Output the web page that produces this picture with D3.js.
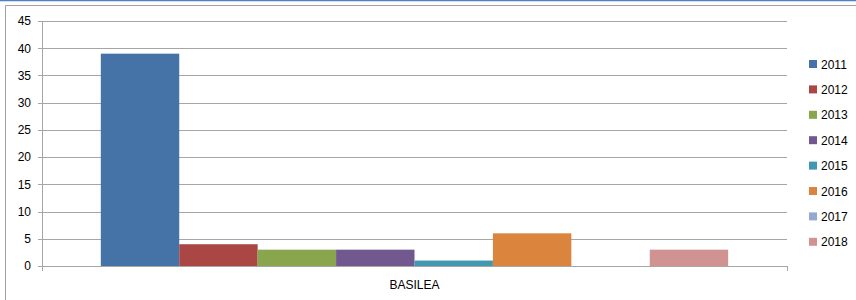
<!DOCTYPE html>
<html>
<head>
<meta charset="utf-8">
<script src="https://cdn.jsdelivr.net/npm/d3@7"></script>
<style>
  body { margin: 0; background: #fff; }
  svg { display: block; font-family: "Liberation Sans", Arial, sans-serif; }
</style>
</head>
<body>
<div id="chart"></div>
<script>
const categories = ["BASILEA"];
const years = ["2011", "2012", "2013", "2014", "2015", "2016", "2017", "2018"];
const values = [39, 4, 3, 3, 1, 6, 0, 3];
const yTicks = [0, 5, 10, 15, 20, 25, 30, 35, 40, 45];
const colors = ["#4572A7", "#AA4643", "#89A54E", "#71588F", "#4198AF", "#DB843D", "#93A9CF", "#D19392"];

const width = 856, height = 300;
const plot = {left: 42, right: 787, top: 21, bottom: 266};

const svg = d3.select("#chart").append("svg").attr("width", width).attr("height", height);

// frame
svg.append("line").attr("x1", 0).attr("x2", width).attr("y1", 0.5).attr("y2", 0.5)
  .attr("stroke", "#4F81BD").attr("stroke-width", 1.5);
svg.append("path").attr("d", `M5.5,${height}V5.5H${width}`)
  .attr("fill", "none").attr("stroke", "#A0A0A0").attr("stroke-width", 1);

const x0 = d3.scaleBand().domain(categories).range([plot.left, plot.right]);
// Excel gap width 150% -> bars take 8/(8+1.5) of the band
const gap = x0.bandwidth() * 1.5 / (years.length + 1.5);
const x1 = d3.scaleBand().domain(years).range([gap / 2, x0.bandwidth() - gap / 2]);
const y = d3.scaleLinear().domain([0, 45]).range([plot.bottom, plot.top]);

// gridlines + y labels
const yAxis = d3.axisLeft(y).tickValues(yTicks).tickSize(-(plot.right - plot.left)).tickSizeOuter(0).tickPadding(11);
const gy = svg.append("g").attr("transform", `translate(${plot.left},0)`).call(yAxis);
gy.select(".domain").remove();
gy.selectAll(".tick line").attr("stroke", "#A6A6A6").attr("x1", -4).attr("shape-rendering", "crispEdges");
gy.selectAll(".tick text").attr("fill", "#000").attr("font-size", 12);
svg.append("line").attr("x1", plot.left + 0.5).attr("x2", plot.left + 0.5)
  .attr("y1", plot.top).attr("y2", plot.bottom).attr("stroke", "#A6A6A6");

// bars
const groups = svg.append("g").selectAll("g").data(categories).join("g")
  .attr("transform", d => `translate(${x0(d)},0)`);
groups.selectAll("rect").data(years.map((yr, i) => ({yr, v: values[i], c: colors[i]})))
  .join("rect")
  .attr("x", d => x1(d.yr))
  .attr("width", x1.bandwidth())
  .attr("y", d => y(d.v))
  .attr("height", d => y(0) - y(d.v))
  .attr("fill", d => d.c);

// x axis
const xAxis = d3.axisBottom(x0).tickSize(0).tickPadding(14);
const gx = svg.append("g").attr("transform", `translate(0,${plot.bottom})`).call(xAxis);
gx.select(".domain").remove();
gx.selectAll(".tick text").attr("fill", "#000").attr("font-size", 12);
svg.append("line").attr("x1", plot.left).attr("x2", plot.right + 0.5)
  .attr("y1", plot.bottom + 0.5).attr("y2", plot.bottom + 0.5).attr("stroke", "#A6A6A6");
[plot.left, plot.right].forEach(px => {
  svg.append("line").attr("x1", px + 0.5).attr("x2", px + 0.5)
    .attr("y1", plot.bottom).attr("y2", plot.bottom + 5).attr("stroke", "#A6A6A6");
});

// legend
const legend = svg.append("g").selectAll("g").data(years).join("g")
  .attr("transform", (d, i) => `translate(809,${64 + i * 25.4})`);
legend.append("rect").attr("x", 0).attr("y", -4).attr("width", 8).attr("height", 8)
  .attr("fill", (d, i) => colors[i]);
legend.append("text").attr("x", 12).attr("y", 4.5).attr("font-size", 12).attr("fill", "#000").text(d => d);
</script>
</body>
</html>
